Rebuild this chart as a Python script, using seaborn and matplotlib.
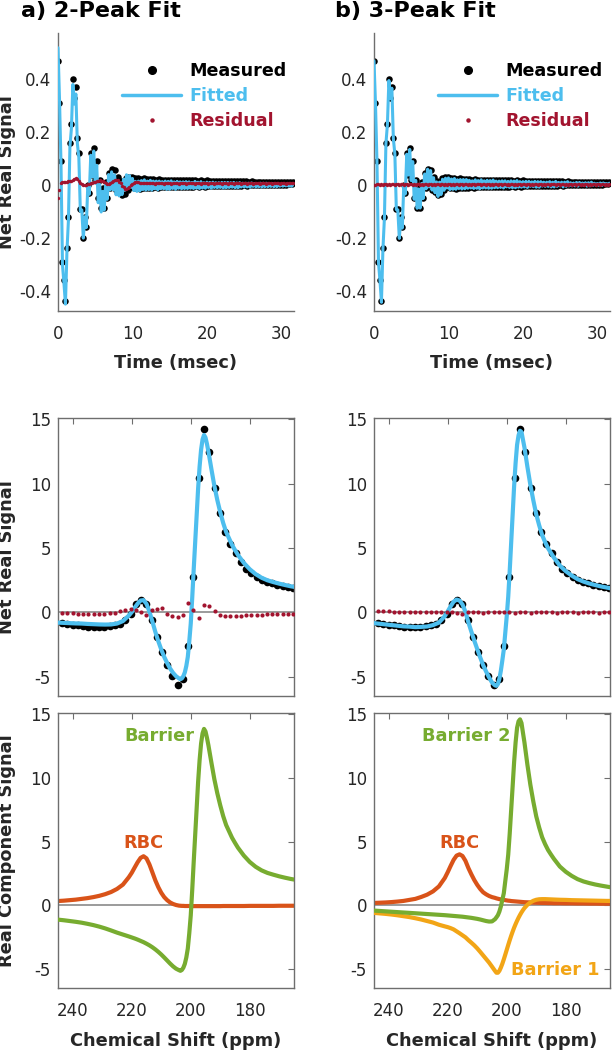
import numpy as np
import matplotlib
matplotlib.use("Agg")
import matplotlib.pyplot as plt
import seaborn as sns
from matplotlib.lines import Line2D

# ---------------- data ----------------
# time-domain (FID), sampling interval in msec
fid_dt = 0.2
fid_measured = [
    0.47, 0.31, 0.09, -0.29, -0.36, -0.44, -0.24, -0.12, 0.16, 0.23,
    0.40, 0.33, 0.37, 0.18, 0.12, -0.09, -0.09, -0.20, -0.12, -0.16,
    0.00, -0.03, 0.12, 0.04, 0.14, 0.02, 0.09, -0.05, 0.02, -0.085,
    -0.01, -0.085, 0.01, -0.05, 0.045, -0.01, 0.062, -0.002, 0.058, -0.017,
    0.032, -0.028, 0.015, -0.038, 0.013, -0.032, 0.025, -0.019, 0.03, -0.009,
    0.03, -0.012,
    0.025, -0.012, 0.026, -0.013, 0.024, -0.011, 0.026, -0.012, 0.023, -0.010,
    0.024, -0.011, 0.022, -0.009, 0.021, -0.010, 0.022, -0.008, 0.020, -0.009,
    0.021, -0.008, 0.020, -0.009, 0.021, -0.007, 0.019, -0.008, 0.020, -0.007,
    0.019, -0.008, 0.020, -0.006, 0.018, -0.007, 0.019, -0.006, 0.018, -0.007,
    0.019, -0.005, 0.017, -0.006, 0.018, -0.005, 0.017, -0.006, 0.018, -0.004,
    0.016, -0.005, 0.017, -0.004, 0.016, -0.004, 0.017, -0.003, 0.015, -0.004,
    0.016, -0.003, 0.015, -0.003, 0.016, -0.002, 0.015, -0.003, 0.014, -0.002,
    0.015, -0.002, 0.014, -0.001, 0.014, -0.002, 0.013, -0.001, 0.014, 0.000,
    0.013, -0.001, 0.013, 0.000, 0.012, 0.000, 0.013, 0.001, 0.012, 0.000,
    0.012, 0.001, 0.011, 0.001, 0.012, 0.002, 0.011, 0.001, 0.011, 0.002,
    0.010, 0.002, 0.011, 0.003, 0.010, 0.003, 0.010,
]
fid_resid_2peak = [
    -0.05, -0.018, 0.006, 0.012, 0.012, 0.011, 0.012, 0.014, 0.015, 0.016,
    0.019, 0.023, 0.025, 0.022, 0.016, 0.009, 0.004, 0.001, 0.0, 0.001,
    0.003, 0.005, 0.007, 0.009, 0.011, 0.013, 0.015, 0.017, 0.018, 0.017,
    0.014, 0.01, 0.006, 0.004, 0.005, 0.008, 0.012, 0.016, 0.019, 0.02,
    0.018, 0.013, 0.006, -0.002, -0.009, -0.013, -0.014, -0.011, -0.006, 0.0,
    0.005, 0.009, 0.011, 0.012, 0.011, 0.009, 0.007, 0.006, 0.006, 0.007,
    0.008, 0.007, 0.006, 0.008, 0.007, 0.005, 0.006, 0.008, 0.007, 0.006,
    0.007, 0.005, 0.006, 0.008, 0.006, 0.007, 0.005, 0.006, 0.007, 0.008,
    0.006, 0.005, 0.007, 0.006, 0.008, 0.007, 0.005, 0.006, 0.007, 0.006,
    0.008, 0.006, 0.005, 0.007, 0.006, 0.007, 0.005, 0.006, 0.008, 0.006,
    0.007, 0.005, 0.006, 0.007, 0.006, 0.005, 0.007, 0.006, 0.008, 0.006,
    0.005, 0.007, 0.006, 0.007, 0.005, 0.006, 0.007, 0.006, 0.005, 0.007,
    0.006, 0.008, 0.006, 0.005, 0.007, 0.006, 0.007, 0.005, 0.006, 0.007,
    0.006, 0.005, 0.007, 0.006, 0.008, 0.006, 0.005, 0.007, 0.006, 0.007,
    0.005, 0.006, 0.007, 0.006, 0.005, 0.007, 0.006, 0.008, 0.006, 0.005,
    0.007, 0.006, 0.007, 0.005, 0.006, 0.007, 0.006, 0.007, 0.006,
]
fid_resid_3peak = [
    0.000, 0.002, 0.004, 0.003, 0.001, 0.004, 0.002, 0.005, 0.003, 0.001,
    0.004, 0.002, 0.003, 0.005, 0.001, 0.003, 0.004, 0.002, 0.005, 0.003,
    0.001, 0.004, 0.003, 0.002, 0.005, 0.003, 0.001, 0.004, 0.002, 0.003,
    0.005, 0.002, 0.004, 0.001, 0.003, 0.004, 0.002, 0.005, 0.003, 0.002,
    0.004, 0.001, 0.003, 0.005, 0.002, 0.004, 0.003, 0.001, 0.004, 0.002,
    0.003, 0.005, 0.002, 0.004, 0.001, 0.003, 0.004, 0.002, 0.005, 0.003,
    0.002, 0.004, 0.003, 0.001, 0.004, 0.002, 0.005, 0.003, 0.002, 0.004,
    0.003, 0.005, 0.001, 0.003, 0.004, 0.002, 0.003, 0.005, 0.002, 0.004,
    0.001, 0.003, 0.004, 0.002, 0.005, 0.003, 0.002, 0.004, 0.003, 0.001,
    0.004, 0.002, 0.003, 0.005, 0.002, 0.004, 0.001, 0.003, 0.004, 0.002,
    0.005, 0.003, 0.002, 0.004, 0.003, 0.001, 0.004, 0.002, 0.003, 0.005,
    0.002, 0.004, 0.003, 0.001, 0.004, 0.002, 0.005, 0.003, 0.002, 0.004,
    0.003, 0.005, 0.001, 0.003, 0.004, 0.002, 0.003, 0.005, 0.002, 0.004,
    0.001, 0.003, 0.004, 0.002, 0.005, 0.003, 0.002, 0.004, 0.003, 0.001,
    0.004, 0.002, 0.003, 0.005, 0.002, 0.004, 0.001, 0.003, 0.004, 0.002,
    0.005, 0.003, 0.002, 0.004, 0.003, 0.001, 0.004, 0.002, 0.003,
]

# spectrum sample points (ppm) and measured net real signal
spec_ppm = [
    243.6, 241.8, 240.0, 238.2, 236.4, 234.7, 232.9, 231.1, 229.3, 227.5,
    225.8, 224.0, 222.2, 220.4, 218.6, 216.9, 215.1, 213.3, 211.5, 209.7,
    208.0, 206.2, 204.4, 202.6, 200.8, 199.1, 197.3, 195.5, 193.7, 191.9,
    190.2, 188.4, 186.6, 184.8, 183.0, 181.3, 179.5, 177.7, 175.9, 174.1,
    172.4, 170.6, 168.8, 167.0, 165.2,
]
spec_measured = [
    -0.85, -0.90, -0.95, -1.00, -1.05, -1.10, -1.12, -1.12, -1.10, -1.08,
    -1.02, -0.93, -0.62, -0.10, 0.65, 0.96, 0.65, -0.60, -1.90, -3.06,
    -4.09, -4.95, -5.65, -5.18, -2.59, 2.77, 10.46, 14.24, 12.43, 9.68,
    7.69, 6.26, 5.28, 4.58, 3.93, 3.40, 3.05, 2.75, 2.52, 2.37,
    2.25, 2.14, 2.04, 1.96, 1.88,
]
spec_resid_2peak = [
    -0.03, -0.05, -0.08, -0.10, -0.15, -0.15, -0.15, -0.13, -0.10, -0.08,
    -0.02, 0.12, 0.20, 0.25, 0.22, 0.05, -0.20, 0.20, 0.25, 0.30,
    -0.10, -0.30, -0.40, -0.20, 0.70, 0.20, -0.45, 0.55, 0.50, 0.10,
    -0.20, -0.25, -0.25, -0.25, -0.27, -0.22, -0.20, -0.18, -0.17, -0.15,
    -0.14, -0.13, -0.12, -0.10, -0.10,
]
spec_resid_3peak = [
    0.08, 0.10, 0.08, 0.05, 0.02, 0.05, 0.00, 0.03, 0.05, 0.02,
    0.04, 0.05, 0.03, 0.05, 0.00, -0.05, -0.10, 0.03, 0.02, 0.05,
    -0.08, 0.04, 0.03, 0.02, 0.05, 0.03, -0.03, 0.04, 0.02, -0.05,
    0.03, 0.04, 0.05, 0.02, -0.03, 0.04, 0.02, 0.03, -0.02, 0.03,
    0.04, 0.01, -0.04, 0.02, 0.03,
]

# fitted components on a finer ppm grid
comp_ppm = [
    245, 243, 241, 239, 237, 235, 233, 231, 229, 227, 225, 223,
    221, 220, 219, 218, 217, 216, 215, 214, 213, 212, 211, 210, 209, 208, 207, 206, 205, 204,
    203.5, 203, 202.5, 202, 201.5, 201, 200.5, 200, 199.5, 199, 198.5, 198, 197.5, 197,
    196.5, 196, 195.5, 195, 194.5, 194,
    193, 192, 191, 190, 189, 188, 187, 186, 185, 184,
    182, 180, 178, 176, 174, 172, 170, 168, 166, 165,
]
rbc_2peak = [
    0.33, 0.36, 0.40, 0.44, 0.50, 0.56, 0.64, 0.74, 0.87, 1.04, 1.28, 1.62,
    2.20, 2.55, 2.97, 3.38, 3.72, 3.85, 3.68, 3.20, 2.58, 1.95, 1.42, 0.98, 0.64, 0.40, 0.22, 0.10, 0.02, -0.03,
    -0.04, -0.05, -0.05, -0.06, -0.06, -0.06, -0.06, -0.07, -0.07, -0.07, -0.07, -0.07, -0.07, -0.07,
    -0.07, -0.07, -0.07, -0.07, -0.07, -0.07,
    -0.07, -0.07, -0.07, -0.07, -0.06, -0.06, -0.06, -0.06, -0.06, -0.06,
    -0.06, -0.05, -0.05, -0.05, -0.05, -0.05, -0.04, -0.04, -0.04, -0.04,
]
barrier_2peak = [
    -1.13, -1.18, -1.24, -1.30, -1.37, -1.46, -1.56, -1.68, -1.82, -1.98, -2.15, -2.30,
    -2.45, -2.53, -2.61, -2.70, -2.80, -2.90, -3.02, -3.15, -3.30, -3.47, -3.66, -3.87, -4.10, -4.34, -4.58, -4.80, -4.98, -5.10,
    -5.15, -5.08, -4.90, -4.60, -4.10, -3.40, -2.20, -0.80, 1.20, 3.40, 5.50, 7.60, 9.70, 11.40,
    12.70, 13.50, 13.85, 13.65, 13.15, 12.55,
    11.20, 9.90, 8.80, 7.85, 7.00, 6.30, 5.80, 5.30, 4.90, 4.52,
    3.90, 3.40, 3.02, 2.74, 2.54, 2.40, 2.27, 2.16, 2.06, 2.02,
]
rbc_3peak = [
    0.18, 0.20, 0.22, 0.25, 0.29, 0.34, 0.42, 0.50, 0.65, 0.83, 1.09, 1.48,
    2.14, 2.60, 3.10, 3.57, 3.90, 4.00, 3.87, 3.49, 2.92, 2.43, 1.98, 1.60, 1.28, 1.02, 0.86, 0.73, 0.64, 0.58,
    0.54, 0.51, 0.48, 0.46, 0.44, 0.42, 0.40, 0.38, 0.36, 0.35, 0.33, 0.32, 0.31, 0.30,
    0.29, 0.28, 0.27, 0.26, 0.25, 0.24,
    0.23, 0.22, 0.21, 0.20, 0.19, 0.18, 0.18, 0.17, 0.17, 0.16,
    0.16, 0.15, 0.15, 0.14, 0.14, 0.13, 0.13, 0.12, 0.12, 0.12,
]
barrier1_3peak = [
    -0.60, -0.64, -0.68, -0.73, -0.79, -0.86, -0.93, -1.02, -1.12, -1.24, -1.36, -1.53,
    -1.66, -1.72, -1.80, -1.90, -2.05, -2.20, -2.36, -2.52, -2.74, -2.94, -3.15, -3.39, -3.66, -3.94, -4.22, -4.50, -4.82, -5.15,
    -5.30, -5.30, -5.15, -4.90, -4.60, -4.25, -3.88, -3.50, -3.12, -2.75, -2.40, -2.07, -1.76, -1.48,
    -1.22, -0.98, -0.76, -0.56, -0.38, -0.22,
    0.04, 0.22, 0.35, 0.43, 0.47, 0.48, 0.48, 0.47, 0.46, 0.45,
    0.43, 0.42, 0.40, 0.39, 0.38, 0.37, 0.36, 0.35, 0.34, 0.34,
]
barrier2_3peak = [
    -0.42, -0.45, -0.48, -0.51, -0.54, -0.57, -0.60, -0.63, -0.66, -0.69, -0.72, -0.75,
    -0.78, -0.80, -0.82, -0.84, -0.86, -0.88, -0.90, -0.93, -0.96, -0.99, -1.03, -1.07, -1.12, -1.18, -1.24, -1.28, -1.27, -1.10,
    -0.95, -0.78, -0.50, -0.10, 0.42, 0.94, 1.89, 2.83, 3.97, 5.61, 7.48, 9.36, 11.26, 12.79,
    13.94, 14.45, 14.60, 14.31, 13.54, 12.79,
    11.04, 9.47, 8.15, 6.98, 6.10, 5.34, 4.80, 4.34, 3.98, 3.64,
    3.04, 2.63, 2.31, 2.05, 1.87, 1.74, 1.63, 1.54, 1.46, 1.42,
]

time_ticks = [0, 10, 20, 30]
fid_yticks = [-0.4, -0.2, 0, 0.2, 0.4]
fid_yticklabels = ["-0.4", "-0.2", "0", "0.2", "0.4"]
ppm_ticks = [240, 220, 200, 180]
spec_yticks = [-5, 0, 5, 10, 15]
legend_labels = ["Measured", "Fitted", "Residual"]

# ---------------- style ----------------
sns.set_style("white")
plt.rcParams["font.family"] = ["DejaVu Sans"]
plt.rcParams["axes.unicode_minus"] = False

BLUE = "#4DBEEE"
RED = "#A2142F"
RBC_C = "#D95319"
GREEN = "#77AC30"
ORANGE = "#F2A516"
TXT = "#262626"
AXC = "#6e6e6e"
TICK_FS = 12
LAB_FS = 12.8
LEG_FS = 12.6
TITLE_FS = 16

fig = plt.figure(figsize=(6.14, 10.5), dpi=100)
FW, FH = 614.0, 1050.0
col_x = [58 / FW, 374 / FW]
col_w = 236 / FW
row_geo = {
    "top": (1 - 311 / FH, 278 / FH),
    "mid": (1 - 696 / FH, 278 / FH),
    "bot": (1 - 988 / FH, 275 / FH),
}


def style_axes(ax, boxed):
    for side in ["left", "bottom", "top", "right"]:
        ax.spines[side].set_color(AXC)
        ax.spines[side].set_linewidth(1.0)
    if not boxed:
        ax.spines["top"].set_visible(False)
        ax.spines["right"].set_visible(False)
    ax.tick_params(axis="both", direction="in", length=4, width=0.8, color=AXC,
                   labelcolor=TXT, labelsize=TICK_FS, top=boxed, right=boxed)
    ax.tick_params(axis="x", pad=10)
    ax.tick_params(axis="y", pad=5)
    ax.set_facecolor("white")


def set_ylab(ax, text):
    ax.set_ylabel(text, fontsize=LAB_FS, fontweight="bold", color=TXT)
    ax.yaxis.set_label_coords(-0.178, 0.5)


t = fid_dt * np.arange(len(fid_measured))
fid_meas = np.array(fid_measured)

for ci, (resid, title) in enumerate([(fid_resid_2peak, "a) 2-Peak Fit"),
                                      (fid_resid_3peak, "b) 3-Peak Fit")]):
    ax = fig.add_axes([col_x[ci], row_geo["top"][0], col_w, row_geo["top"][1]])
    res = np.array(resid)
    fit = fid_meas - res
    sns.scatterplot(x=t, y=fid_meas, ax=ax, color="black", s=22, linewidth=0,
                    zorder=2, legend=False)
    sns.lineplot(x=t, y=fit, ax=ax, color=BLUE, linewidth=2.2, zorder=3,
                 sort=False, estimator=None, legend=False)
    sns.scatterplot(x=t, y=res, ax=ax, color=RED, s=6, linewidth=0,
                    zorder=4, legend=False)
    ax.set_xlim(0, 31.7)
    ax.set_ylim(-0.477, 0.576)
    ax.set_xticks(time_ticks)
    ax.set_yticks(fid_yticks)
    ax.set_yticklabels(fid_yticklabels)
    style_axes(ax, boxed=False)
    ax.set_xlabel("Time (msec)", fontsize=LAB_FS, fontweight="bold", color=TXT)
    ax.xaxis.set_label_coords(0.5, -0.155)
    ax.xaxis.label.set_va("top")
    if ci == 0:
        set_ylab(ax, "Net Real Signal")
    else:
        ax.set_ylabel("")
    handles = [
        Line2D([], [], marker="o", ls="none", color="black", markersize=5.5),
        Line2D([], [], color=BLUE, lw=2.5),
        Line2D([], [], marker="o", ls="none", color=RED, markersize=2.2),
    ]
    leg = ax.legend(handles, legend_labels, loc="upper left", bbox_to_anchor=(0.272, 0.896),
                    frameon=False, fontsize=LEG_FS, handlelength=3.35, handletextpad=0.5,
                    labelspacing=0.4, borderpad=0, borderaxespad=0)
    for txt, c in zip(leg.get_texts(), ["black", BLUE, RED]):
        txt.set_color(c)
        txt.set_fontweight("bold")
    fig.text([21 / FW, 335 / FW][ci], 1 - 1 / FH, title, fontsize=TITLE_FS,
             fontweight="bold", ha="left", va="top", color="black")

# middle row: spectra
ppm_c = np.array(comp_ppm)
fit_2 = np.array(rbc_2peak) + np.array(barrier_2peak)
fit_3 = np.array(rbc_3peak) + np.array(barrier1_3peak) + np.array(barrier2_3peak)
for ci, (fit, sres) in enumerate([(fit_2, spec_resid_2peak), (fit_3, spec_resid_3peak)]):
    ax = fig.add_axes([col_x[ci], row_geo["mid"][0], col_w, row_geo["mid"][1]])
    ax.axhline(0, color="#8a8a8a", lw=1.2, zorder=1)
    sns.scatterplot(x=spec_ppm, y=spec_measured, ax=ax, color="black", s=30,
                    linewidth=0, zorder=2, legend=False)
    sns.lineplot(x=ppm_c, y=fit, ax=ax, color=BLUE, linewidth=3.0, zorder=3,
                 sort=False, estimator=None, legend=False)
    sns.scatterplot(x=spec_ppm, y=sres, ax=ax, color=RED, s=9, linewidth=0,
                    zorder=4, legend=False)
    ax.set_xlim(245, 165)
    ax.set_ylim(-6.5, 15.1)
    ax.set_xticks(ppm_ticks)
    ax.set_xticklabels([])
    ax.set_yticks(spec_yticks)
    style_axes(ax, boxed=True)
    if ci == 0:
        set_ylab(ax, "Net Real Signal")
    else:
        ax.set_ylabel("")

# bottom row: components
comp_sets = [
    [(rbc_2peak, RBC_C), (barrier_2peak, GREEN)],
    [(rbc_3peak, RBC_C), (barrier1_3peak, ORANGE), (barrier2_3peak, GREEN)],
]
labels_sets = [
    [("Barrier", 210.8, 13.3, GREEN), ("RBC", 215.9, 4.9, RBC_C)],
    [("Barrier 2", 213.7, 13.3, GREEN), ("RBC", 216.2, 4.9, RBC_C),
     ("Barrier 1", 183.4, -5.1, ORANGE)],
]
for ci in range(2):
    ax = fig.add_axes([col_x[ci], row_geo["bot"][0], col_w, row_geo["bot"][1]])
    ax.axhline(0, color="#8a8a8a", lw=1.2, zorder=1)
    for k, (vals, col) in enumerate(comp_sets[ci]):
        sns.lineplot(x=ppm_c, y=np.array(vals), ax=ax, color=col, linewidth=3.0,
                     zorder=2 + k, sort=False, estimator=None, legend=False)
    for (txt, xx, yy, col) in labels_sets[ci]:
        ax.text(xx, yy, txt, color=col, fontsize=12.8, fontweight="bold",
                ha="center", va="center")
    ax.set_xlim(245, 165)
    ax.set_ylim(-6.5, 15.1)
    ax.set_xticks(ppm_ticks)
    ax.set_yticks(spec_yticks)
    style_axes(ax, boxed=True)
    ax.set_xlabel("Chemical Shift (ppm)", fontsize=LAB_FS, fontweight="bold", color=TXT)
    ax.xaxis.set_label_coords(0.5, -0.16)
    ax.xaxis.label.set_va("top")
    if ci == 0:
        set_ylab(ax, "Real Component Signal")
    else:
        ax.set_ylabel("")

fig.savefig("out.png", dpi=100, facecolor="white")
